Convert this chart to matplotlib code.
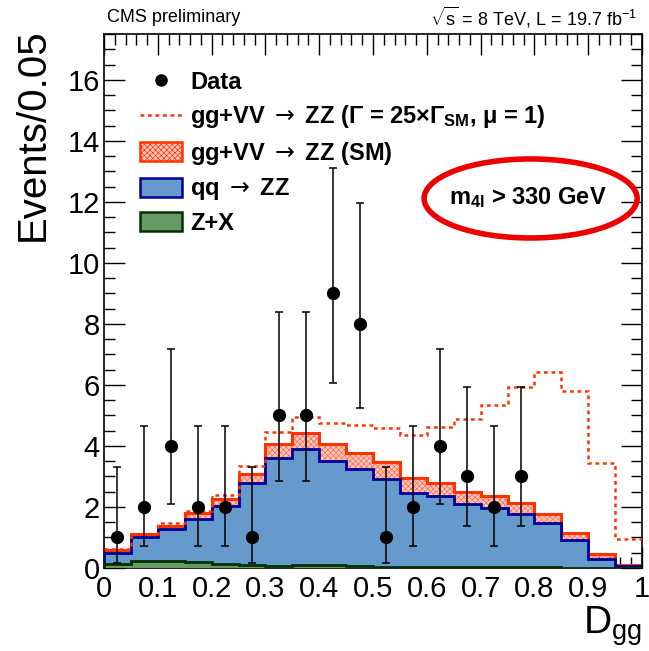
import numpy as np
import matplotlib
matplotlib.use("Agg")
import matplotlib.pyplot as plt
from matplotlib.patches import Patch, Ellipse
from matplotlib.lines import Line2D
from matplotlib.ticker import MultipleLocator

plt.rcParams['font.family'] = ['Liberation Sans', 'DejaVu Sans']
plt.rcParams['mathtext.fontset'] = 'custom'
plt.rcParams['mathtext.rm'] = 'DejaVu Sans'
plt.rcParams['mathtext.sf'] = 'Liberation Sans'
plt.rcParams['mathtext.bf'] = 'Liberation Sans:bold'
plt.rcParams['mathtext.it'] = 'Liberation Sans:italic'
plt.rcParams['hatch.linewidth'] = 0.5

# ---------------- data ----------------
bin_edges = np.linspace(0.0, 1.0, 21)
zx = [0.12, 0.24, 0.23, 0.19, 0.12, 0.10, 0.05, 0.09, 0.09, 0.08,
      0.02, 0.02, 0.02, 0.02, 0.02, 0.02, 0.02, 0.01, 0.01, 0.00]
qqzz = [0.38, 0.79, 1.05, 1.43, 1.91, 2.67, 3.56, 3.80, 3.41, 3.16,
        2.89, 2.43, 2.34, 2.08, 1.96, 1.74, 1.45, 0.91, 0.30, 0.07]
ggzz_sm = [0.08, 0.08, 0.11, 0.19, 0.22, 0.30, 0.45, 0.53, 0.56, 0.54,
           0.57, 0.51, 0.44, 0.38, 0.39, 0.36, 0.29, 0.24, 0.14, 0.04]
total_25 = [0.61, 1.13, 1.47, 1.87, 2.40, 3.33, 4.45, 4.94, 4.74, 4.67,
            4.58, 4.36, 4.61, 4.87, 5.34, 5.92, 6.42, 5.81, 3.44, 0.95]
data_x = [0.025, 0.075, 0.125, 0.175, 0.225, 0.275, 0.325, 0.375,
          0.425, 0.475, 0.525, 0.575, 0.625, 0.675, 0.725, 0.775]
data_y = [1, 2, 4, 2, 2, 1, 5, 5, 9, 8, 1, 2, 4, 3, 2, 3]
data_lo = [0.173, 0.708, 2.086, 0.708, 0.708, 0.173, 2.840, 2.840,
           6.057, 5.232, 0.173, 0.708, 2.086, 1.367, 0.708, 1.367]
data_hi = [3.300, 4.638, 7.163, 4.638, 4.638, 3.300, 8.382, 8.382,
           13.11, 11.95, 3.300, 4.638, 7.163, 5.918, 4.638, 5.918]

# ---------------- figure ----------------
W, H = 649, 651
fig = plt.figure(figsize=(W / 100, H / 100), dpi=100)
L, R, T, B = 104, 642, 34, 568
ax = fig.add_axes([L / W, 1 - B / H, (R - L) / W, (B - T) / H])

c_zx = np.array(zx)
c_qq = c_zx + np.array(qqzz)
c_gg = c_qq + np.array(ggzz_sm)

red_edge = '#ff3300'
red_fill = '#fdc8bc'
red_hatch = '#ff6a50'
blue_fill = '#6699cc'
blue_edge = '#000099'
green_fill = '#669966'
green_edge = '#003300'

# stacked histograms (ROOT style: cumulative, each filled from 0)
ax.stairs(c_gg, bin_edges, baseline=0, fill=True, facecolor=red_fill,
          linewidth=0, zorder=1)
ax.stairs(c_gg, bin_edges, baseline=0, fill=True, facecolor='none',
          edgecolor=red_hatch, hatch='xxxxxx', linewidth=0, zorder=1.5)
ax.stairs(c_gg, bin_edges, baseline=0, fill=False, color=red_edge,
          linewidth=2.2, zorder=2)
ax.stairs(c_qq, bin_edges, baseline=0, fill=True, color=blue_fill,
          linewidth=0, zorder=3)
ax.stairs(c_qq, bin_edges, baseline=0, fill=False, color=blue_edge,
          linewidth=2.0, zorder=4)
ax.stairs(c_zx, bin_edges, baseline=0, fill=True, color=green_fill,
          linewidth=0, zorder=5)
ax.stairs(c_zx, bin_edges, baseline=0, fill=False, color=green_edge,
          linewidth=2.0, zorder=6)

ax.stairs(total_25, bin_edges, baseline=None, fill=False, color=red_edge,
          linewidth=1.8, linestyle=(0, (1.5, 1.5)), zorder=7)

# data
yerr = [np.array(data_y) - np.array(data_lo), np.array(data_hi) - np.array(data_y)]
ax.errorbar(data_x, data_y, yerr=yerr, fmt='o', color='black', markersize=8.5,
            elinewidth=1.1, capsize=3, capthick=1.1, zorder=10)

ax.set_xlim(0, 1)
ax.set_ylim(0, 17.5)

ax.xaxis.set_minor_locator(MultipleLocator(0.02))
ax.yaxis.set_major_locator(MultipleLocator(2))
ax.yaxis.set_minor_locator(MultipleLocator(0.5))
ax.set_xticks(np.arange(0, 1.01, 0.1))
ax.set_xticklabels(['0', '0.1', '0.2', '0.3', '0.4', '0.5', '0.6', '0.7', '0.8', '0.9', '1'])
ax.tick_params(which='both', direction='in', top=True, right=True, colors='black')
ax.tick_params(which='major', length=15, width=1.0)
ax.tick_params(which='minor', length=8, width=1.0)
ax.tick_params(axis='x', which='major', labelsize=21, pad=5)
ax.tick_params(axis='y', which='major', labelsize=21, pad=3)
for sp in ax.spines.values():
    sp.set_linewidth(1.2)

# legend
handles = [
    Line2D([], [], marker='o', color='black', linestyle='none', markersize=8),
    Line2D([], [], color=red_edge, linestyle=(0, (1.5, 1.5)), linewidth=1.8),
    Patch(facecolor=red_fill, edgecolor=red_edge, hatch='xxxxxx', linewidth=1.8),
    Patch(facecolor=blue_fill, edgecolor=blue_edge, linewidth=1.8),
    Patch(facecolor=green_fill, edgecolor=green_edge, linewidth=1.8),
]
arrow = r'$\rightarrow$'
labels = [
    'Data',
    'gg+VV ' + arrow + ' ZZ (\u0393 = 25\u00d7\u0393$_{\\mathbf{SM}}$, \u03bc = 1)',
    'gg+VV ' + arrow + ' ZZ (SM)',
    'qq ' + arrow + ' ZZ',
    'Z+X',
]
leg = ax.legend(handles, labels, loc='upper left',
                bbox_to_anchor=(36 / (R - L), 1 - 37 / (B - T)),
                frameon=False, prop={'weight': 'bold', 'size': 17},
                handlelength=1.78, handleheight=0.85, handletextpad=0.34,
                labelspacing=0.4, borderaxespad=0, borderpad=0)

# ellipse annotation
ell = Ellipse((0.793, 12.11), 0.396, 2.59, fill=False, edgecolor='#ee0000',
              linewidth=4.0, zorder=12)
ax.add_patch(ell)
ax.text(0.787, 12.15, r'm$_{\mathbf{4l}}$ > 330 GeV', ha='center', va='center',
        fontsize=17, fontweight='bold', zorder=13)

# header texts
fig.text(107 / W, 1 - 17 / H, 'CMS preliminary', ha='left', va='center', fontsize=13)
fig.text(637 / W, 1 - 17 / H, r'$\sqrt{\mathsf{s}}$ = 8 TeV, L = 19.7 fb$^{\mathsf{-1}}$',
         ha='right', va='center', fontsize=13)

# axis titles
fig.text(33 / W, 1 - 28 / H, 'Events/0.05', rotation=90, ha='center', va='top', fontsize=29)
fig.text(642 / W, 1 - 648 / H, r'D$_{\mathsf{gg}}$', ha='right', va='bottom', fontsize=28)

fig.savefig('out.png', dpi=100)
